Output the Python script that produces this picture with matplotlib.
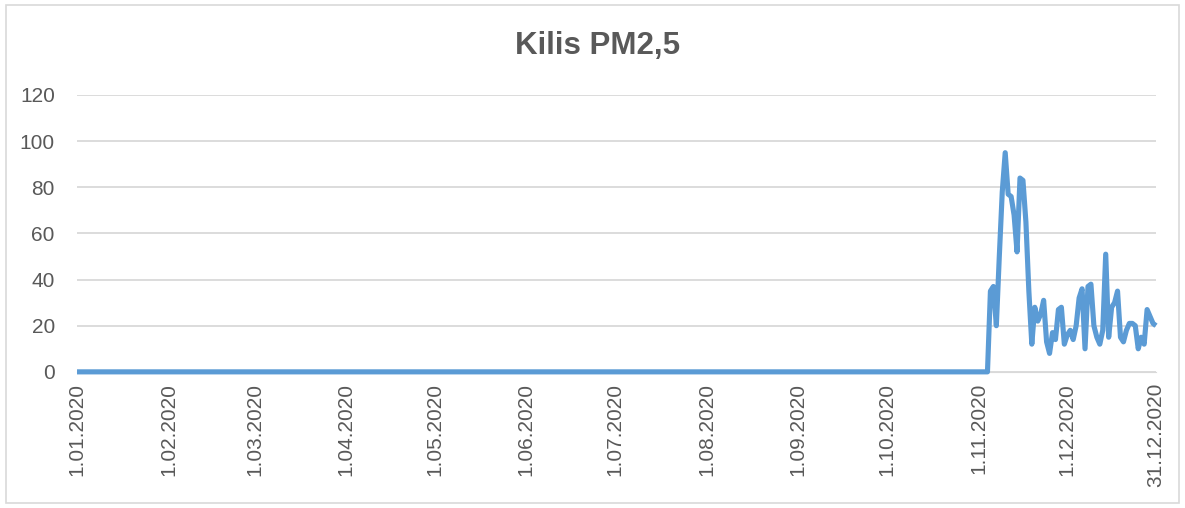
import datetime as dt
import matplotlib
matplotlib.use("Agg")
import matplotlib.pyplot as plt
import matplotlib.dates as mdates
from matplotlib.patches import Rectangle

# ============================================================
# Data (daily PM2.5, Kilis 2020) - zero until early November
# ============================================================
start = dt.date(2020, 1, 1)
n_zero_days = 309
late_values = [
    35, 37, 20, 50, 78, 95, 77, 76, 68, 52,
    84, 83, 65, 35, 12, 28, 22, 25, 31, 13,
    8, 17, 14, 27, 28, 12, 16, 18, 14, 20,
    32, 36, 10, 37, 38, 20, 15, 12, 18, 51,
    15, 28, 30, 35, 15, 13, 18, 21, 21, 20,
    10, 15, 12, 27, 24, 21, 20,
]
values = [0] * n_zero_days + late_values
dates = [start + dt.timedelta(days=i) for i in range(len(values))]

tick_dates = [dt.date(2020, m, 1) for m in range(1, 13)] + [dt.date(2020, 12, 31)]
tick_labels = [f"{d.day}.{d.month:02d}.{d.year}" for d in tick_dates]
y_ticks = [0, 20, 40, 60, 80, 100, 120]

TEXT = "#595959"
GRID = "#D9D9D9"
LINE = "#5B9BD5"

plt.rcParams["font.family"] = ["Liberation Sans", "DejaVu Sans"]

fig = plt.figure(figsize=(11.85, 5.08), dpi=100)
ax = fig.add_axes([0.065, 0.268, 0.9105, 0.545])

# outer chart border
fig.patches.append(Rectangle((0.005, 0.01), 0.99, 0.98, transform=fig.transFigure,
                             fill=False, edgecolor=GRID, linewidth=1.2))

ax.plot(dates, values, color=LINE, linewidth=3.7, solid_joinstyle="round",
        solid_capstyle="butt", zorder=3, clip_on=False)

ax.set_ylim(0, 120)
ax.set_xlim(dates[0], dates[-1])
ax.set_yticks(y_ticks)
ax.yaxis.grid(True, color=GRID, linewidth=1.3)
ax.set_axisbelow(True)

ax.set_xticks([mdates.date2num(d) for d in tick_dates])
ax.set_xticklabels(tick_labels, rotation=90)
ax.tick_params(axis="both", length=0, labelsize=15, labelcolor=TEXT)
ax.tick_params(axis="x", pad=8)
ax.tick_params(axis="y", pad=16)

for side in ["top", "right", "left"]:
    ax.spines[side].set_visible(False)
ax.spines["bottom"].set_color(GRID)

fig.text(0.504, 0.91, "Kilis PM2,5", ha="center", va="center",
         fontsize=22.5, fontweight="bold", color=TEXT)

fig.savefig("out.png", dpi=100)
